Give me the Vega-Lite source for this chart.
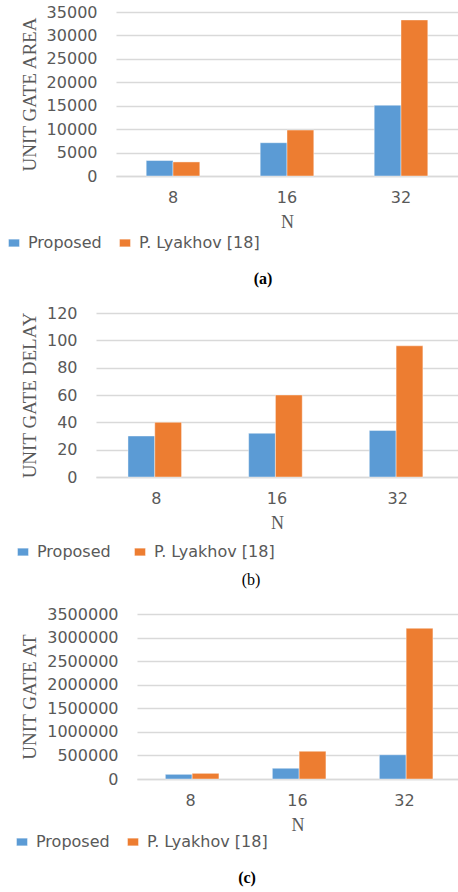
{
  "$schema": "https://vega.github.io/schema/vega-lite/v6.json",
  "padding": {"left": 6, "top": 4, "right": 0, "bottom": 5},
  "background": "white",
  "spacing": 18,
  "datasets": {
    "area": [
      {"N": 8, "series": "Proposed", "value": 3300},
      {"N": 8, "series": "P. Lyakhov [18]", "value": 3000},
      {"N": 16, "series": "Proposed", "value": 7100},
      {"N": 16, "series": "P. Lyakhov [18]", "value": 9800},
      {"N": 32, "series": "Proposed", "value": 15100},
      {"N": 32, "series": "P. Lyakhov [18]", "value": 33300}
    ],
    "delay": [
      {"N": 8, "series": "Proposed", "value": 30},
      {"N": 8, "series": "P. Lyakhov [18]", "value": 40},
      {"N": 16, "series": "Proposed", "value": 32},
      {"N": 16, "series": "P. Lyakhov [18]", "value": 60},
      {"N": 32, "series": "Proposed", "value": 34},
      {"N": 32, "series": "P. Lyakhov [18]", "value": 96}
    ],
    "at": [
      {"N": 8, "series": "Proposed", "value": 99000},
      {"N": 8, "series": "P. Lyakhov [18]", "value": 120000},
      {"N": 16, "series": "Proposed", "value": 227200},
      {"N": 16, "series": "P. Lyakhov [18]", "value": 588000},
      {"N": 32, "series": "Proposed", "value": 513400},
      {"N": 32, "series": "P. Lyakhov [18]", "value": 3196800}
    ]
  },
  "config": {
    "view": {"stroke": null},
    "font": "DejaVu Sans",
    "axis": {
      "labelFont": "DejaVu Sans",
      "labelFontSize": 16,
      "labelColor": "#595959",
      "titleFont": "Liberation Serif",
      "titleFontWeight": "normal",
      "titleColor": "#595959",
      "ticks": false,
      "gridColor": "#D9D9D9",
      "gridWidth": 1.5,
      "domainColor": "#D9D9D9",
      "domainWidth": 1.5
    },
    "axisX": {"labelAngle": 0, "labelPadding": 13, "titleFontSize": 18, "titlePadding": 8, "grid": false, "domain": true},
    "axisY": {"domain": false, "grid": true, "labelPadding": 19, "titleFontSize": 19, "titleAngle": -90, "titleAlign": "center", "titleBaseline": "middle", "titleY": 82},
    "legend": {
      "orient": "none",
      "direction": "horizontal",
      "title": null,
      "labelFont": "DejaVu Sans",
      "labelFontSize": 16,
      "labelColor": "#595959",
      "symbolType": "M-1,-0.7L1,-0.7L1,0.7L-1,0.7Z",
      "symbolSize": 121,
      "symbolStrokeWidth": 0,
      "labelOffset": 6,
      "columnPadding": 17
    },
    "title": {"font": "Liberation Serif", "fontSize": 16, "color": "#000000", "orient": "bottom", "anchor": "middle", "frame": "group"},
    "bar": {"stroke": "#ffffff", "strokeWidth": 0.6, "strokeOpacity": 0.7}
  },
  "vconcat": [
    {
      "data": {"name": "area"},
      "width": 362,
      "height": 164,
      "title": {"text": "(a)", "dx": -14, "fontWeight": "bold", "offset": 20},
      "mark": "bar",
      "encoding": {
        "x": {"field": "N", "type": "ordinal", "scale": {"range": [20, 362], "paddingInner": 0.53, "paddingOuter": 0.265}, "axis": {"title": "N"}},
        "xOffset": {"field": "series", "type": "nominal", "sort": ["Proposed", "P. Lyakhov [18]"]},
        "y": {"field": "value", "type": "quantitative", "scale": {"domain": [0, 35000], "nice": false}, "axis": {"title": "UNIT GATE AREA", "values": [0, 5000, 10000, 15000, 20000, 25000, 30000, 35000], "format": "d", "offset": -20, "titleX": -87}},
        "color": {"field": "series", "type": "nominal", "sort": ["Proposed", "P. Lyakhov [18]"], "scale": {"domain": ["Proposed", "P. Lyakhov [18]"], "range": ["#5B9BD5", "#ED7D31"]}, "legend": {"legendX": -90, "legendY": 223, "columnPadding": 15}}
      }
    },
    {
      "data": {"name": "delay"},
      "width": 362,
      "height": 164,
      "title": {"text": "(b)", "dx": -26, "fontWeight": "normal", "offset": 12},
      "mark": "bar",
      "encoding": {
        "x": {"field": "N", "type": "ordinal", "scale": {"paddingInner": 0.53, "paddingOuter": 0.265}, "axis": {"title": "N"}},
        "xOffset": {"field": "series", "type": "nominal", "sort": ["Proposed", "P. Lyakhov [18]"]},
        "y": {"field": "value", "type": "quantitative", "scale": {"domain": [0, 120], "nice": false}, "axis": {"title": "UNIT GATE DELAY", "values": [0, 20, 40, 60, 80, 100, 120], "titleX": -67}},
        "color": {"field": "series", "type": "nominal", "sort": ["Proposed", "P. Lyakhov [18]"], "scale": {"domain": ["Proposed", "P. Lyakhov [18]"], "range": ["#5B9BD5", "#ED7D31"]}, "legend": {"legendX": -81, "legendY": 231, "columnPadding": 21}}
      }
    },
    {
      "data": {"name": "at"},
      "width": 362,
      "height": 165,
      "title": {"text": "(c)", "dx": -30, "fontWeight": "bold", "offset": 20},
      "mark": "bar",
      "encoding": {
        "x": {"field": "N", "type": "ordinal", "scale": {"range": [41, 362], "paddingInner": 0.53, "paddingOuter": 0.265}, "axis": {"title": "N"}},
        "xOffset": {"field": "series", "type": "nominal", "sort": ["Proposed", "P. Lyakhov [18]"]},
        "y": {"field": "value", "type": "quantitative", "scale": {"domain": [0, 3500000], "nice": false}, "axis": {"title": "UNIT GATE AT", "values": [0, 500000, 1000000, 1500000, 2000000, 2500000, 3000000, 3500000], "format": "d", "offset": -41, "titleX": -108, "titleY": 82.5}},
        "color": {"field": "series", "type": "nominal", "sort": ["Proposed", "P. Lyakhov [18]"], "scale": {"domain": ["Proposed", "P. Lyakhov [18]"], "range": ["#5B9BD5", "#ED7D31"]}, "legend": {"legendX": -82, "legendY": 220, "columnPadding": 15}}
      }
    }
  ],
  "resolve": {"scale": {"color": "independent"}}
}
